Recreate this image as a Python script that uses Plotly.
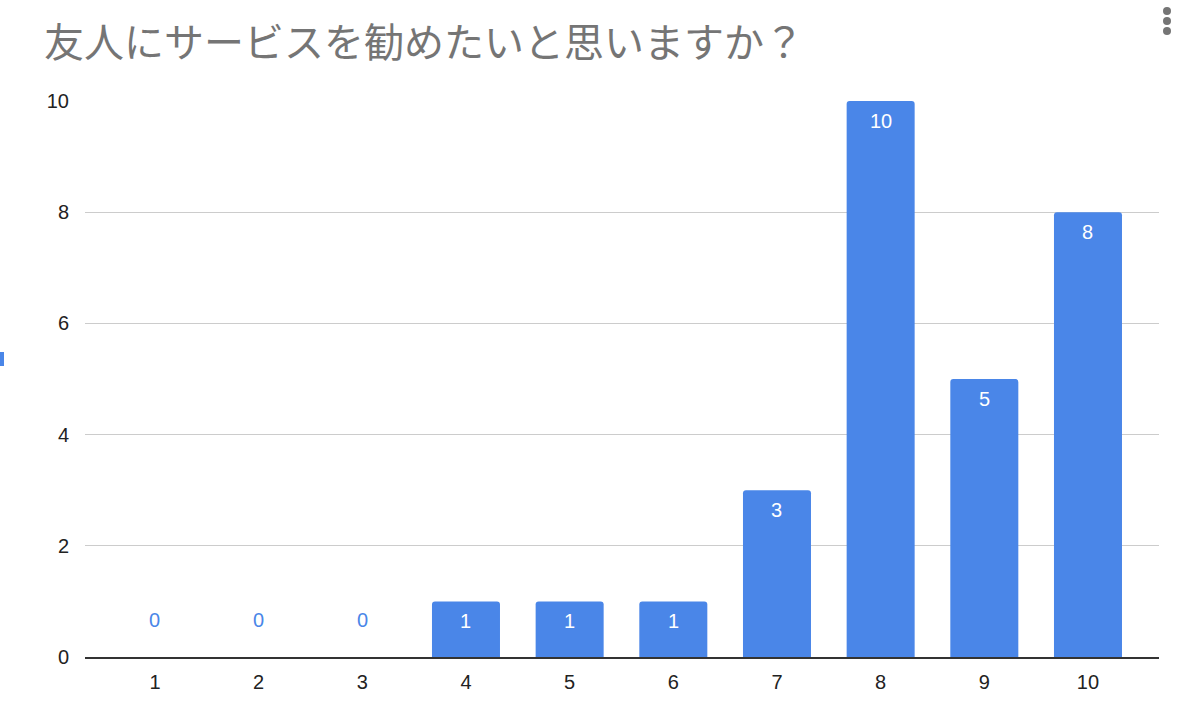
import plotly.graph_objects as go

title_text = "友人にサービスを勧めたいと思いますか？"
categories = [1, 2, 3, 4, 5, 6, 7, 8, 9, 10]
counts = [0, 0, 0, 1, 1, 1, 3, 10, 5, 8]
y_ticks = [0, 2, 4, 6, 8, 10]

BLUE = "#4a86e8"
FONT = "Liberation Sans, Arial, sans-serif"

fig = go.Figure()
fig.add_trace(go.Bar(
    x=categories, y=counts, width=0.656,
    marker=dict(color=BLUE, line=dict(width=0), cornerradius=3),
    hoverinfo="skip", showlegend=False,
))

annotations = []
for c, v in zip(categories, counts):
    if v > 0:
        annotations.append(dict(x=c, y=v, xref="x", yref="y", text=str(v), showarrow=False,
                                yanchor="middle", yshift=-20,
                                font=dict(family=FONT, size=20, color="white")))
    else:
        annotations.append(dict(x=c, y=v, xref="x", yref="y", text=str(v), showarrow=False,
                                yanchor="middle", yshift=37,
                                font=dict(family=FONT, size=20, color=BLUE)))

fig.update_layout(
    width=1190, height=718,
    margin=dict(l=85, r=31, t=101, b=61),
    paper_bgcolor="white", plot_bgcolor="white",
    title=dict(text=title_text, x=44 / 1190, xanchor="left", y=1 - 43 / 718, yanchor="middle",
               font=dict(family="Noto Sans CJK JP", size=40, color="#757575")),
    xaxis=dict(range=[0.325, 10.685], tickvals=categories, ticktext=[str(c) for c in categories],
               showgrid=False, zeroline=False, showline=True, linecolor="#333333", linewidth=2,
               ticks="outside", ticklen=6, tickcolor="rgba(0,0,0,0)",
               tickfont=dict(family=FONT, size=20, color="#222222"), fixedrange=True),
    yaxis=dict(range=[0, 10], tickvals=y_ticks, ticktext=[str(t) for t in y_ticks],
               showgrid=True, gridcolor="#cccccc", gridwidth=1, zeroline=False, showline=False,
               ticks="outside", ticklen=11, tickcolor="rgba(0,0,0,0)",
               tickfont=dict(family=FONT, size=20, color="#222222"), fixedrange=True),
    annotations=annotations,
    shapes=[
        dict(type="rect", xref="paper", yref="paper", x0=-85 / 1074, x1=-81 / 1074,
             y0=(718 - 61 - 366) / 556, y1=(718 - 61 - 352) / 556,
             fillcolor=BLUE, line=dict(width=0)),
    ] + [
        dict(type="circle", xref="paper", yref="paper",
             x0=(1163 - 85) / 1074, x1=(1171 - 85) / 1074,
             y0=(657 - cy - 4) / 556, y1=(657 - cy + 4) / 556,
             fillcolor="#757575", line=dict(width=0))
        for cy in (11, 21, 31)
    ],
)

fig.write_html("out.html", config={"displayModeBar": False})
